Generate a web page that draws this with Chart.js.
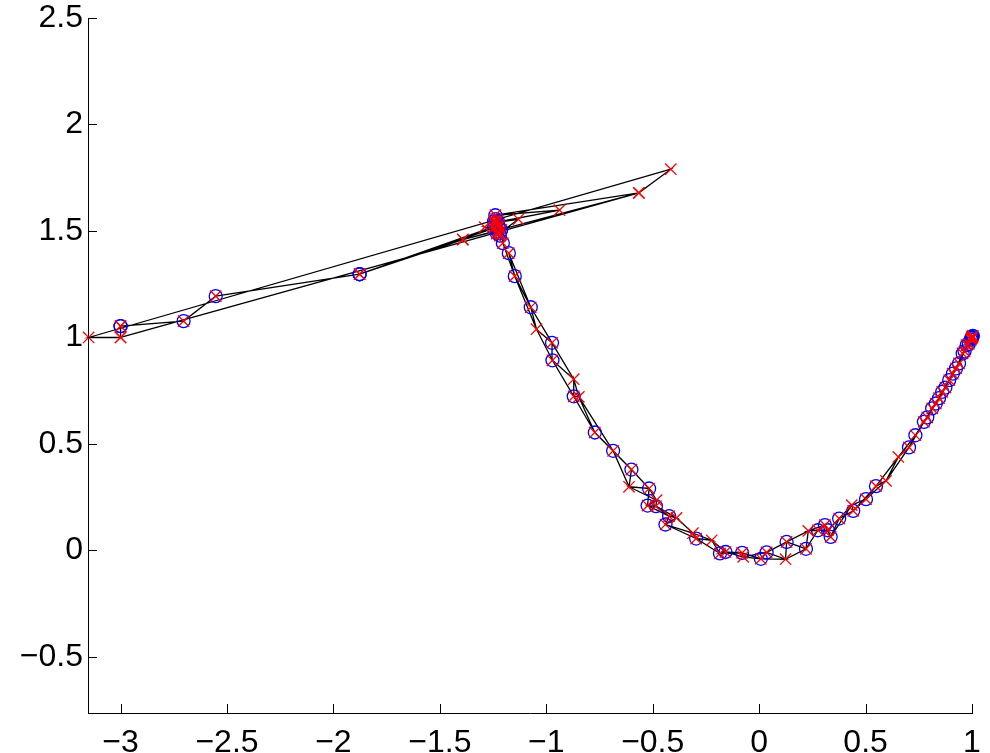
<!DOCTYPE html>
<html>
<head>
  <meta charset="UTF-8">
  <title>trajectory</title>
  <script src="https://cdn.jsdelivr.net/npm/chart.js"></script>
  <style>
    html, body { margin: 0; padding: 0; background: #fff; }
    #plot { display: block; }
  </style>
</head>
<body>
  <canvas id="plot" width="990" height="753"></canvas>

  <script>
    // first phase: path across the plateau (points repeated where the path returns)
    const headX = [-3.000, -3.000, -3.150, -0.415, -0.565, -3.000, -3.000, -2.704, -2.553, -1.877, -1.392, -0.565,
                   -1.239, -0.938, -1.233, -1.131, -1.219, -1.289, -1.247, -1.877, -1.226, -1.392, -1.212];
    const headY = [1.053, 1.000, 1.000, 1.790, 1.679, 1.000, 1.053, 1.077, 1.194, 1.297, 1.460, 1.679,
                   1.574, 1.598, 1.541, 1.555, 1.490, 1.518, 1.513, 1.297, 1.528, 1.460, 1.505];
    const headRing = [1, 0, 0, 0, 0, 0, 1, 1, 1, 1, 0, 0,
                      1, 0, 1, 0, 1, 0, 1, 1, 1, 0, 1];

    // second phase: down the valley to (1, 1)
    const valleyX = [-1.204, -1.176, -1.148, -1.073, -1.046, -0.973, -0.971, -0.871, -0.871, -0.847,
                     -0.772, -0.686, -0.600, -0.611, -0.517, -0.482, -0.524, -0.485, -0.423, -0.388,
                     -0.440, -0.311, -0.296, -0.223, -0.184, -0.158, -0.080, -0.075, 0.008, 0.035,
                     0.124, 0.129, 0.220, 0.231, 0.276, 0.309, 0.323, 0.336, 0.376, 0.435,
                     0.442, 0.502, 0.549, 0.596, 0.654, 0.704, 0.734, 0.774, 0.790, 0.813,
                     0.830, 0.845, 0.860, 0.875, 0.893, 0.910, 0.925, 0.939, 0.956, 0.965,
                     0.975, 0.985, 0.995, 1.000];
    const valleyY = [1.443, 1.396, 1.288, 1.142, 1.039, 0.975, 0.893, 0.804, 0.724, 0.721,
                     0.554, 0.468, 0.380, 0.299, 0.291, 0.236, 0.211, 0.208, 0.161, 0.153,
                     0.122, 0.081, 0.056, 0.048, -0.014, -0.007, -0.011, -0.030, -0.039, -0.009,
                     -0.041, 0.040, 0.008, 0.092, 0.095, 0.119, 0.095, 0.064, 0.150, 0.213,
                     0.186, 0.241, 0.302, 0.327, 0.439, 0.484, 0.541, 0.604, 0.625, 0.667,
                     0.690, 0.715, 0.745, 0.765, 0.800, 0.830, 0.855, 0.878, 0.925, 0.935,
                     0.964, 0.970, 0.990, 1.000];
    const valleyRing = [1, 1, 1, 1, 0, 1, 1, 0, 1, 0,
                        1, 1, 1, 0, 1, 0, 1, 1, 1, 0,
                        1, 0, 1, 0, 1, 1, 1, 0, 1, 1,
                        0, 1, 1, 0, 1, 1, 1, 1, 1, 0,
                        1, 1, 1, 0, 0, 1, 1, 1, 1, 1,
                        1, 1, 1, 1, 1, 1, 1, 1, 1, 1,
                        1, 1, 1, 1];

    // extra points piled up in the two clusters
    const pileX = [-1.236, -1.228, -1.242, -1.222, -1.230, -1.245, -1.218, -1.232, 0.998, 1.002, 0.999, 1.004];
    const pileY = [1.556, 1.548, 1.535, 1.520, 1.500, 1.545, 1.478, 1.488, 0.996, 1.003, 1.001, 1.008];

    const xTicks = [-3, -2.5, -2, -1.5, -1, -0.5, 0, 0.5, 1];
    const yTicks = [-0.5, 0, 0.5, 1, 1.5, 2, 2.5];

    // build datasets
    const pathPts = headX.map((x, i) => ({ x: x, y: headY[i] }));
    pathPts.push({ x: valleyX[0], y: valleyY[0] });
    for (let i = 0; i + 2 < valleyX.length; i++) {
      pathPts.push({ x: valleyX[i + 2], y: valleyY[i + 2] });
      pathPts.push({ x: valleyX[i + 1], y: valleyY[i + 1] });
    }
    pathPts.push({ x: valleyX[valleyX.length - 1], y: valleyY[valleyY.length - 1] });

    const crossPts = [];
    const ringPts = [];
    headX.forEach((x, i) => {
      crossPts.push({ x: x, y: headY[i] });
      if (headRing[i]) ringPts.push({ x: x, y: headY[i] });
    });
    valleyX.forEach((x, i) => {
      crossPts.push({ x: x, y: valleyY[i] });
      if (valleyRing[i]) ringPts.push({ x: x, y: valleyY[i] });
    });
    pileX.forEach((x, i) => {
      crossPts.push({ x: x, y: pileY[i] });
      ringPts.push({ x: x, y: pileY[i] });
    });

    const minus = v => String(v).replace('-', '\u2212');

    // MATLAB style ticks pointing into the plot
    const inwardTicks = {
      id: 'inwardTicks',
      afterDraw(chart) {
        const ctx = chart.ctx;
        const xs = chart.scales.x, ys = chart.scales.y;
        const area = chart.chartArea;
        ctx.save();
        ctx.strokeStyle = '#000';
        ctx.lineWidth = 1;
        ctx.beginPath();
        xs.ticks.forEach(t => {
          const px = Math.round(xs.getPixelForValue(t.value)) + 0.5;
          ctx.moveTo(px, area.bottom);
          ctx.lineTo(px, area.bottom - 9);
        });
        ys.ticks.forEach(t => {
          const py = Math.round(ys.getPixelForValue(t.value)) + 0.5;
          ctx.moveTo(area.left, py);
          ctx.lineTo(area.left + 9, py);
        });
        ctx.stroke();
        ctx.restore();
      }
    };

    new Chart(document.getElementById('plot'), {
      type: 'scatter',
      data: {
        datasets: [
          {
            data: crossPts,
            pointStyle: 'crossRot',
            pointRadius: 8,
            pointBorderColor: '#ff0000',
            pointBorderWidth: 1.3,
            showLine: false,
            clip: false
          },
          {
            data: ringPts,
            pointStyle: 'circle',
            pointRadius: 6.5,
            pointBorderColor: '#0000ff',
            pointBackgroundColor: 'rgba(0,0,0,0)',
            pointBorderWidth: 1.3,
            showLine: false,
            clip: false
          },
          {
            data: pathPts,
            showLine: true,
            borderColor: '#000',
            borderWidth: 1.3,
            pointRadius: 0,
            tension: 0,
            clip: false
          }
        ]
      },
      options: {
        responsive: false,
        animation: false,
        devicePixelRatio: 1,
        events: [],
        layout: { padding: { top: 18, right: 18, bottom: 0, left: 0 } },
        plugins: { legend: { display: false }, tooltip: { enabled: false } },
        scales: {
          x: {
            type: 'linear',
            min: -3.153,
            max: 1.0,
            grid: { display: false, drawTicks: false },
            border: { display: true, color: '#000', width: 1 },
            afterBuildTicks: s => { s.ticks = xTicks.map(v => ({ value: v })); },
            afterFit: s => { s.height = 40; s.paddingLeft = 0; s.paddingRight = 0; },
            ticks: {
              color: '#000',
              padding: 11,
              maxRotation: 0,
              autoSkip: false,
              font: { family: 'Liberation Sans', size: 32 },
              callback: v => minus(v)
            }
          },
          y: {
            type: 'linear',
            min: -0.763,
            max: 2.5,
            grid: { display: false, drawTicks: false },
            border: { display: true, color: '#000', width: 1 },
            afterBuildTicks: s => { s.ticks = yTicks.map(v => ({ value: v })); },
            afterFit: s => { s.width = 88; s.paddingTop = 0; s.paddingBottom = 0; },
            ticks: {
              color: '#000',
              padding: 5,
              autoSkip: false,
              font: { family: 'Liberation Sans', size: 32 },
              callback: v => minus(v)
            }
          }
        }
      },
      plugins: [inwardTicks]
    });
  </script>
</body>
</html>
